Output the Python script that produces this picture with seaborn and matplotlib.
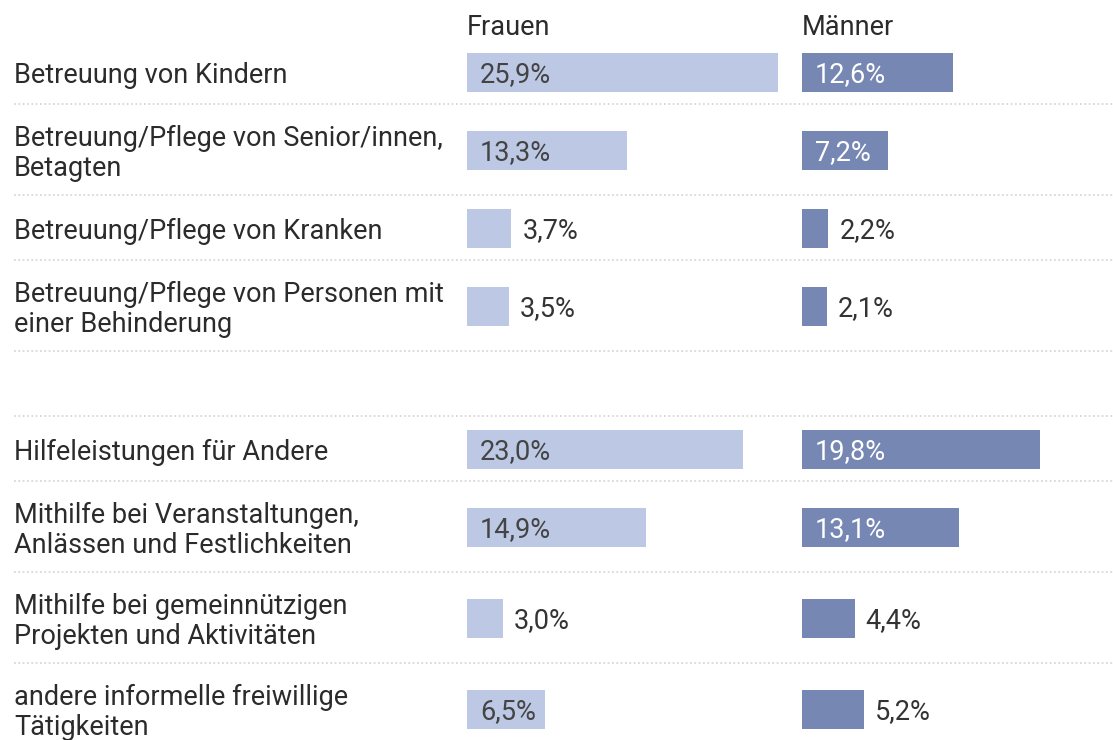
import matplotlib
matplotlib.use("Agg")
import matplotlib.pyplot as plt
import seaborn as sns
import pandas as pd
import numpy as np

# ---- data ----
categories = [
    "Betreuung von Kindern",
    "Betreuung/Pflege von Senior/innen,\nBetagten",
    "Betreuung/Pflege von Kranken",
    "Betreuung/Pflege von Personen mit\neiner Behinderung",
    "",
    "Hilfeleistungen für Andere",
    "Mithilfe bei Veranstaltungen,\nAnlässen und Festlichkeiten",
    "Mithilfe bei gemeinnützigen\nProjekten und Aktivitäten",
    "andere informelle freiwillige\nTätigkeiten",
]
frauen = [25.9, 13.3, 3.7, 3.5, np.nan, 23.0, 14.9, 3.0, 6.5]
maenner = [12.6, 7.2, 2.2, 2.1, np.nan, 19.8, 13.1, 4.4, 5.2]
series = ["Frauen", "Männer"]

# ---- style ----
sns.set_theme(style="white")
plt.rcParams["font.family"] = ["Roboto", "DejaVu Sans"]
FS = 19.5
C_F = "#bcc8e4"
C_M = "#7687b3"
TXT = "#2b2b2b"

W, H = 1113, 740
fig = plt.figure(figsize=(W / 100, H / 100), dpi=100)

# layout in pixel space: row height by number of label lines
top = 39
row_h = [65 if c.count("\n") == 0 else 91 for c in categories]
bounds = top + np.concatenate([[0], np.cumsum(row_h)])
centers = (bounds[:-1] + bounds[1:]) / 2 + 1
BASE_OFF = 10.5   # baseline offset from row centre (px)
LINE_PX = 30

# background axes in pixel coordinates
bg = fig.add_axes([0, 0, 1, 1])
bg.set_xlim(0, W)
bg.set_ylim(H, 0)
bg.axis("off")
for b in bounds[1:]:
    bg.plot([14, W], [b, b], color="#d8d8d8", lw=1.3, ls=(0, (1, 1.4)), zorder=0)
for c, y in zip(categories, centers):
    if c:
        lines = c.split("\n")
        n = len(lines)
        for i, ln in enumerate(lines):
            bg.text(14, y + BASE_OFF + (i - (n - 1) / 2) * LINE_PX, ln,
                    ha="left", va="baseline", fontsize=FS, color=TXT)

PX_PER_UNIT = 12.0
BAR_PX = 39
panels = [(467, 802 - 467, frauen, C_F, "#444444"),
          (802, W - 802, maenner, C_M, "white")]

for name, (x0, wpx, vals, col, intxt) in zip(series, panels):
    ax = fig.add_axes([x0 / W, 0, wpx / W, 1])
    df = pd.DataFrame({"pos": centers, "value": vals}).dropna()
    min_gap = np.diff(np.sort(df["pos"].values)).min()
    sns.barplot(data=df, x="value", y="pos", orient="h", native_scale=True,
                width=BAR_PX / min_gap, color=col, saturation=1, ax=ax,
                edgecolor="none", errorbar=None)
    ax.set_xlim(0, wpx / PX_PER_UNIT)
    ax.set_ylim(H, 0)
    ax.axis("off")
    for y, v in zip(df["pos"], df["value"]):
        lab = f"{v:.1f}".replace(".", ",") + "%"
        if v >= 6.0:
            ax.text(13 / PX_PER_UNIT, y + 9.5, lab, ha="left", va="baseline",
                    fontsize=FS, color=intxt)
        else:
            ax.text(v + 11 / PX_PER_UNIT, y + 9.5, lab, ha="left", va="baseline",
                    fontsize=FS, color="#333333")
    bg.text(x0, 35, name, ha="left", va="baseline", fontsize=FS, color=TXT)

fig.savefig("out.png", dpi=100)
